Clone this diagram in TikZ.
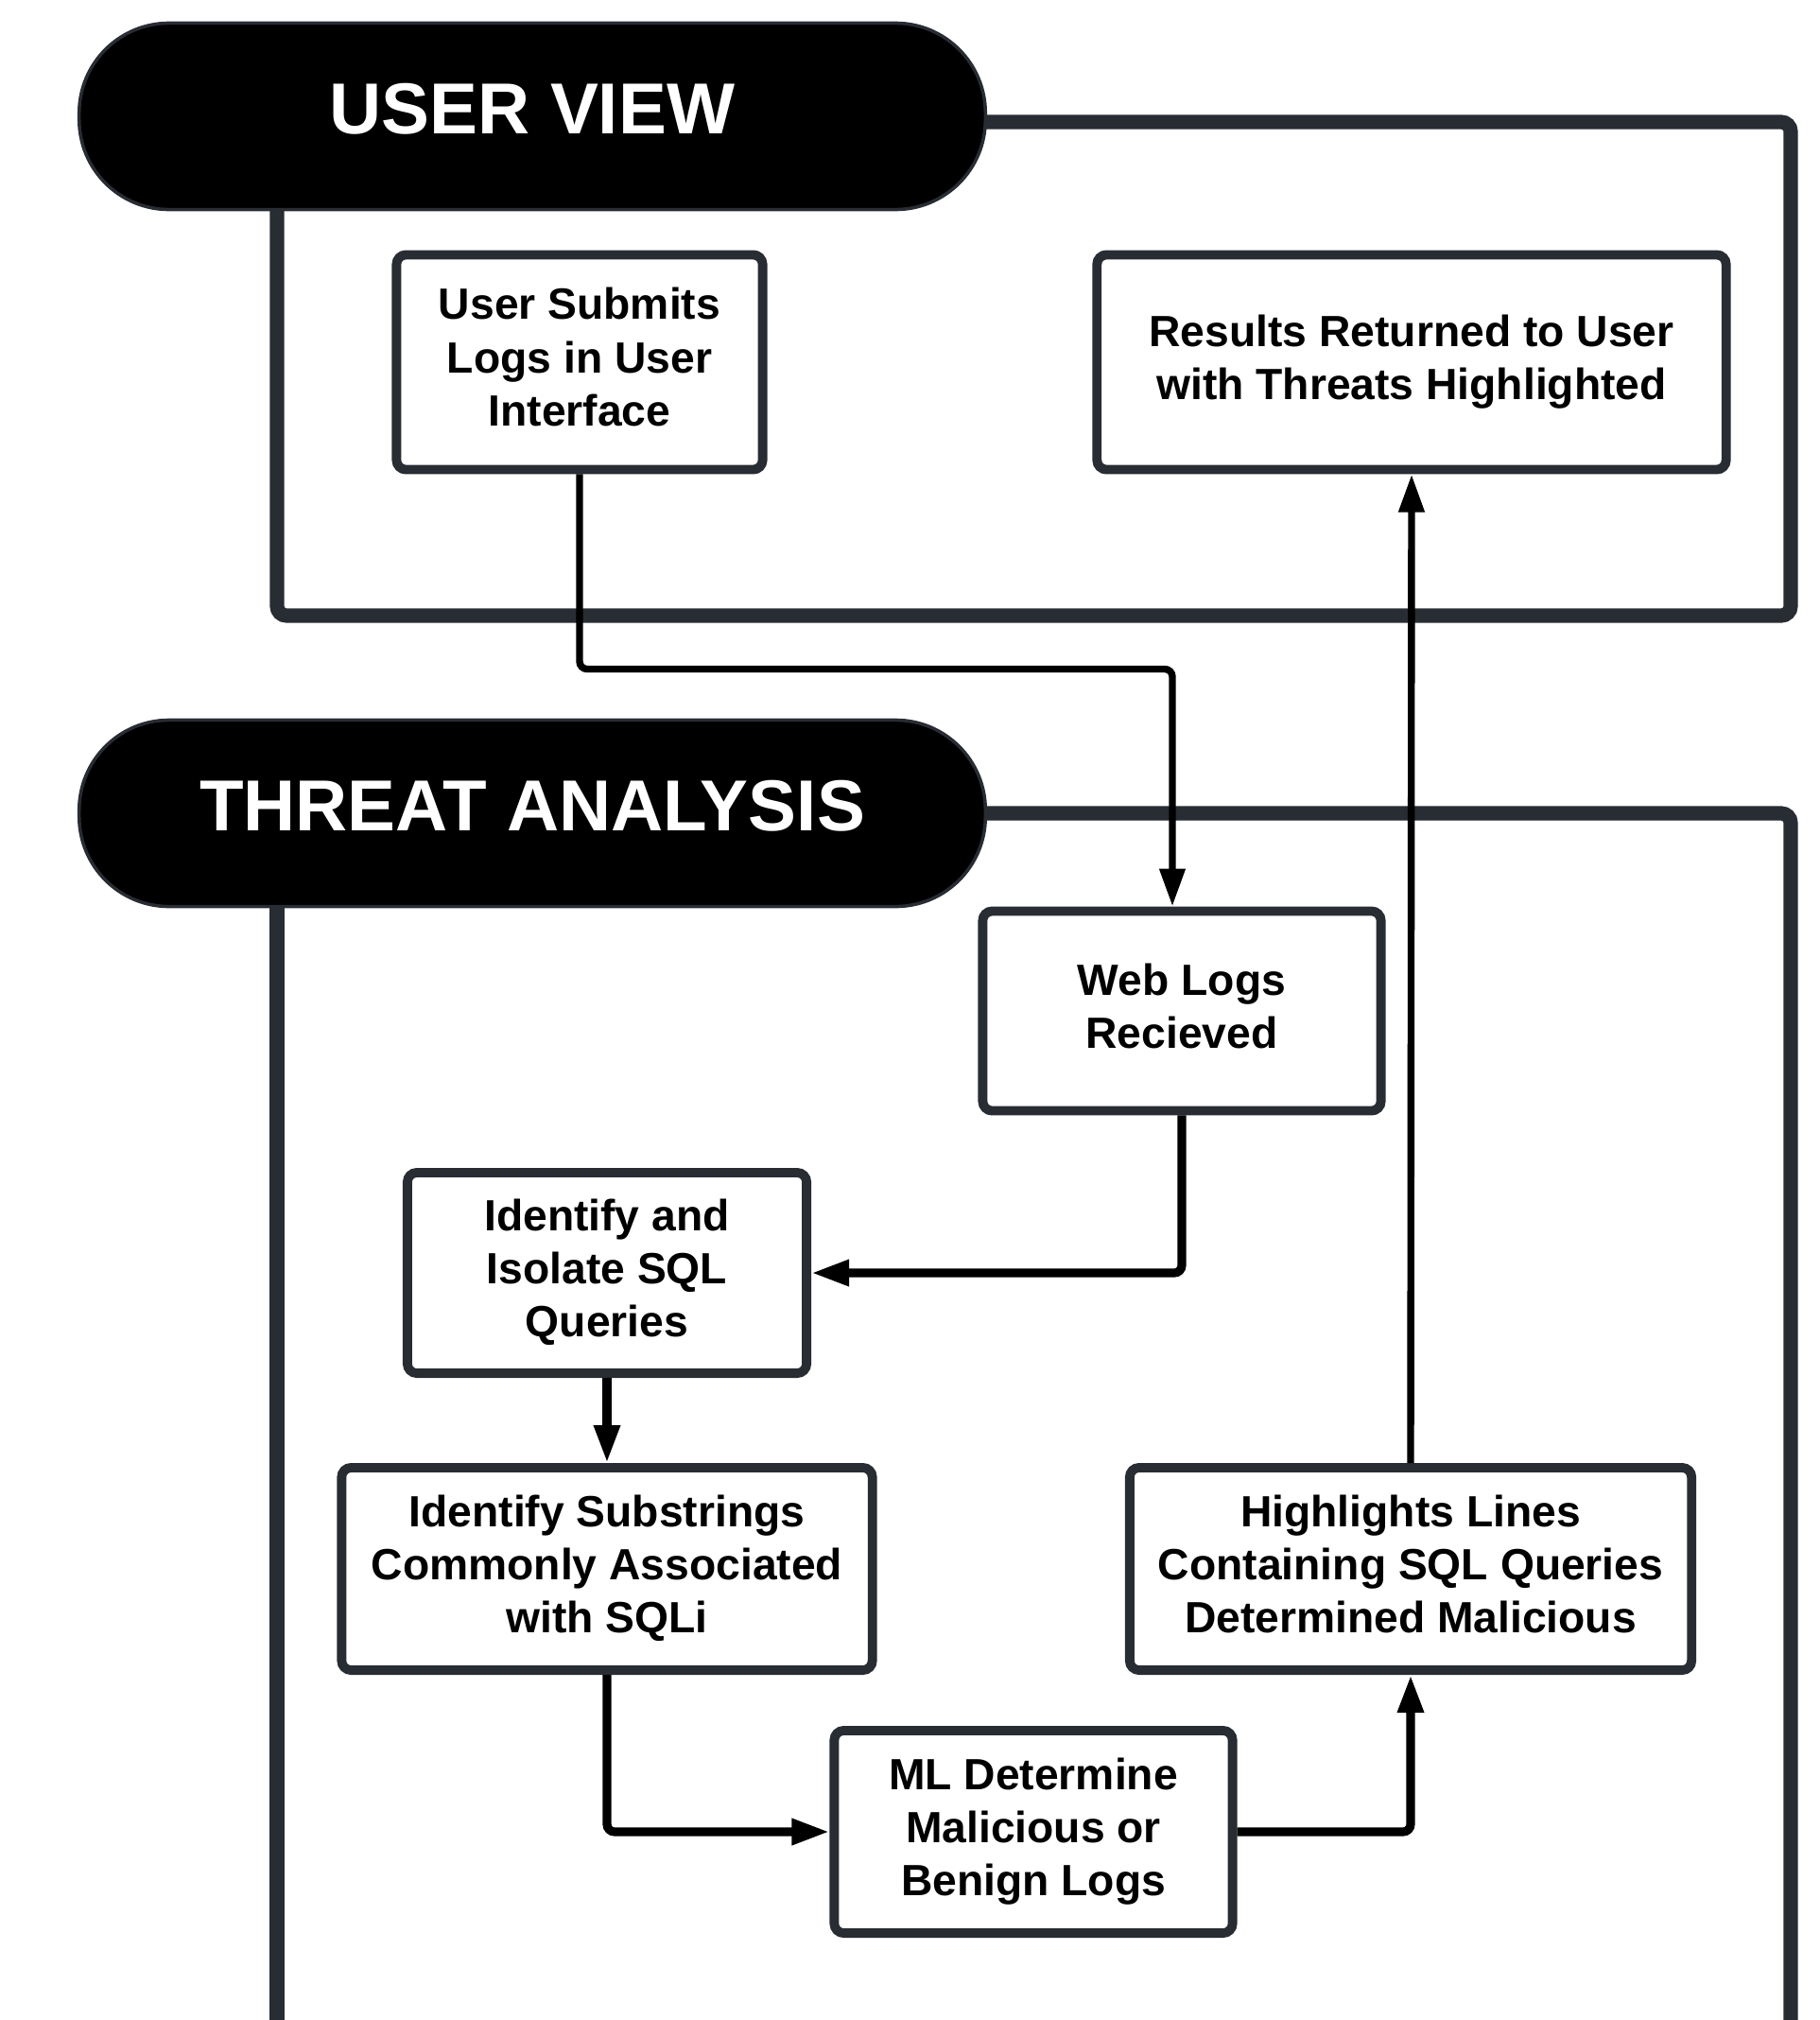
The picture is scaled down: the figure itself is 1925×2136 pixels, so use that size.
\documentclass[tikz,border=0pt]{standalone}
\usepackage{fontspec}
\setmainfont{Liberation Sans}
\usetikzlibrary{arrows.meta}
\definecolor{framegray}{HTML}{282C33}
\begin{document}
\begin{tikzpicture}[x=0.01cm,y=-0.01cm,
	frame/.style={draw=framegray,line width=4.3pt,rounded corners=0.1cm},
	pill/.style={fill=black,draw=framegray,line width=1pt,rounded corners=0.95cm,text=white,text depth=0.16cm,font=\bfseries\fontsize{21.7}{26}\selectfont,minimum width=9.58cm,minimum height=1.97cm},
	box/.style={draw=framegray,fill=white,line width=2.8pt,rounded corners=0.1cm,align=center,text depth=0.11cm,font=\bfseries\fontsize{13.15}{16}\selectfont},
	arr/.style={draw=black,line width=2.1pt,rounded corners=0.08cm,-{Triangle[length=0.4cm,width=0.26cm]}}]
	\useasboundingbox (0,0) rectangle (1925,2136);
	\draw[frame](1000,129)--(1894,129)--(1894,651)--(293,651)--(293,200);
	\draw[frame](1000,860)--(1894,860)--(1894,2150);
	\draw[frame](293,940)--(293,2150);
	\node[pill] (uv) at (563,123) {USER VIEW};
	\node[pill] (ta) at (563,860) {THREAT ANALYSIS};
	\node[box,minimum width=3.87cm,minimum height=2.27cm] (submit) at (613,383) {User Submits\\Logs in User\\Interface};
	\node[box,minimum width=6.65cm,minimum height=2.27cm] (results) at (1493,383) {Results Returned to User\\with Threats Highlighted};
	\node[box,minimum width=4.21cm,minimum height=2.11cm] (weblogs) at (1250,1069) {Web Logs\\Recieved};
	\node[box,minimum width=4.22cm,minimum height=2.12cm] (isolate) at (642,1346) {Identify and\\Isolate SQL\\Queries};
	\node[box,minimum width=5.61cm,minimum height=2.14cm] (substr) at (642,1659) {Identify Substrings\\Commonly Associated\\with SQLi};
	\node[box,minimum width=5.94cm,minimum height=2.14cm] (highlight) at (1492,1659) {Highlights Lines\\Containing SQL Queries\\Determined Malicious};
	\node[box,minimum width=4.21cm,minimum height=2.14cm] (ml) at (1093,1937) {ML Determine\\Malicious or\\Benign Logs};
	\draw[arr](submit.south)--++(0,206)-|([xshift=-0.1cm]weblogs.north);
	\draw[arr,line width=2.6pt](weblogs.south)|-(isolate.east);
	\draw[arr,line width=2.6pt](isolate.south)--(substr.north);
	\draw[arr,line width=2.6pt](substr.south)|-(ml.west);
	\draw[arr,line width=2.6pt](ml.east)-|(highlight.south);
	\draw[arr](highlight.north)--(results.south);
\end{tikzpicture}
\end{document}
